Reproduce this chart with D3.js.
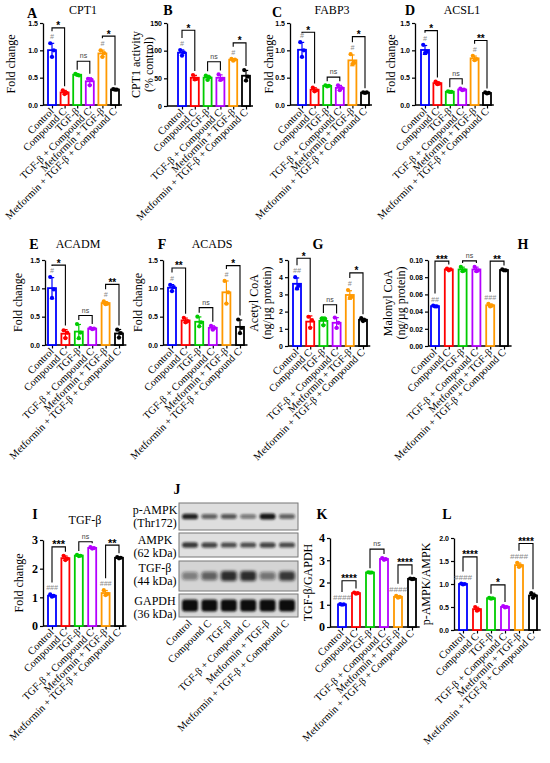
<!DOCTYPE html>
<html><head><meta charset="utf-8">
<script src="https://cdn.jsdelivr.net/npm/d3@7"></script>
<style>body{margin:0;background:#fff}svg{display:block}</style>
</head><body>
<svg id="c" width="550" height="763"></svg>
<script>
// ---------- data ----------
const groups = ["Control","Compound C","TGF-β","TGF-β + Compound C","Metformin + TGF-β","Metformin + TGF-β + Compound C"];
const groupColors = ["#0000ff","#ff0000","#00cc00","#b400ff","#ff9900","#000000"];

const cpt1      = [[1.13,1.0,0.88],[0.27,0.22,0.2],[0.57,0.54,0.55],[0.48,0.46,0.36],[1.0,0.95,0.88],[0.29,0.28,0.28]];
const cpt1Act   = [[101,97,91],[56,49,48],[55,52,47],[57,49,47],[85,84,82],[65,53,46]];
const fabp3     = [[1.15,1.0,0.88],[0.32,0.27,0.25],[0.36,0.35,0.34],[0.36,0.31,0.27],[0.93,0.77,0.75],[0.23,0.23,0.22]];
const acsl1     = [[1.1,0.97,0.95],[0.43,0.39,0.38],[0.25,0.24,0.24],[0.3,0.28,0.27],[0.9,0.84,0.82],[0.23,0.22,0.21]];
const acadm     = [[1.2,0.98,0.83],[0.26,0.22,0.12],[0.37,0.22,0.12],[0.3,0.29,0.28],[0.77,0.73,0.72],[0.27,0.21,0.13]];
const acads     = [[1.06,1.02,0.95],[0.48,0.42,0.4],[0.5,0.4,0.33],[0.34,0.3,0.27],[1.13,0.93,0.73],[0.45,0.3,0.21]];
const acetylCoA = [[4.0,3.5,3.35],[1.7,1.5,1.05],[1.6,1.58,1.2],[1.65,1.35,1.05],[3.25,2.85,2.8],[1.62,1.5,1.45]];
const malonylCoA= [[0.047,0.046,0.046],[0.09,0.089,0.088],[0.092,0.088,0.087],[0.092,0.088,0.087],[0.049,0.047,0.046],[0.089,0.088,0.088]];
const tgfbMRNA  = [[1.1,1.05,1.02],[2.45,2.35,2.3],[2.48,2.45,2.44],[2.75,2.72,2.7],[1.25,1.12,1.08],[2.4,2.38,2.36]];
const tgfbGapdh = [[1.03,1.02,1.0],[1.55,1.52,1.5],[2.46,2.45,2.44],[3.1,3.05,3.02],[1.4,1.35,1.32],[2.18,2.16,2.15]];
const pampkAmpk = [[1.01,1.0,0.99],[0.5,0.44,0.42],[0.7,0.69,0.68],[0.52,0.5,0.49],[1.46,1.4,1.37],[0.8,0.75,0.7]];

// significance: [groupA, groupB, bracket value, label]
const sigA = [[0,1,1.41,"*"],[2,3,0.80,"ns"],[4,5,1.26,"*"]];
const sigB = [[0,1,137,"*"],[2,3,80,"ns"],[4,5,114,"*"]];
const sigC = [[0,1,1.33,"*"],[2,3,0.51,"ns"],[4,5,1.25,"*"]];
const sigD = [[0,1,1.36,"*"],[2,3,0.48,"ns"],[4,5,1.18,"**"]];
const sigE = [[0,1,1.41,"*"],[2,3,0.52,"ns"],[4,5,1.07,"**"]];
const sigF = [[0,1,1.36,"**"],[2,3,0.66,"ns"],[4,5,1.40,"*"]];
const sigG = [[0,1,5.1,"*"],[2,3,2.4,"ns"],[4,5,4.25,"*"]];
const sigH = [[0,1,0.0987,"***"],[2,3,0.099,"ns"],[4,5,0.0987,"**"]];
const sigI = [[0,1,2.76,"***"],[2,3,2.94,"ns"],[4,5,2.82,"**"]];
const sigK = [[0,1,2.08,"****"],[2,3,3.5,"ns"],[4,5,2.79,"****"]];
const sigL = [[0,1,1.59,"****"],[2,3,0.98,"*"],[4,5,1.88,"****"]];

// hash marks: [group, label]
const hashA = [[0,"#"],[4,"#"]];
const hashG = [[0,"##"],[4,"#"]];
const hashH = [[0,"##"],[4,"###"]];
const hashI = [[0,"###"],[4,"###"]];
const hashKL = [[0,"####"],[4,"####"]];

// western blot band intensities (0-1) per lane
const bandPAMPK = [0.9,0.6,0.65,0.5,0.95,0.6];
const bandAMPK  = [0.8,0.75,0.7,0.7,0.75,0.72];
const bandTGFB  = [0.45,0.6,0.85,0.85,0.5,0.8];
const bandGAPDH = [1,1,1,1,1,1];

// ---------- drawing ----------
const svg = d3.select("#c");
const serif = "'Liberation Serif','Times New Roman',serif";
const sans = "'Liberation Sans',Arial,sans-serif";

function txt(x, y, s, o = {}) {
  return svg.append("text").attr("x", x).attr("y", y).text(s)
    .attr("font-family", o.f || serif).attr("font-size", o.s || 12)
    .attr("font-weight", o.w || "normal").attr("text-anchor", o.a || "middle")
    .attr("fill", o.c || "#000").attr("font-style", o.i || "normal");
}

function panel(p) {
  const g = svg.append("g");
  const x = d3.scalePoint().domain(d3.range(6)).range([p.x0, p.x0 + 5 * p.step]);
  const y = d3.scaleLinear().domain([0, p.max]).range([p.yBot, p.yTop]);
  const bw = 8;
  // y axis
  const ya = g.append("g").attr("transform", `translate(${p.ax},0)`)
    .call(d3.axisLeft(y).tickValues(p.ticks).tickFormat(p.fmt).tickSize(3).tickPadding(2).tickSizeOuter(0));
  ya.select(".domain").attr("stroke", "#000").attr("stroke-width", 1.3);
  ya.selectAll(".tick line").attr("stroke", "#000").attr("stroke-width", 1.2);
  ya.selectAll(".tick text").attr("font-family", p.tf || sans).attr("font-weight", "bold")
    .attr("font-size", p.ts || 7).attr("fill", "#000");
  // x axis
  g.append("line").attr("x1", p.ax).attr("x2", x(5) + p.step * 0.55)
    .attr("y1", p.yBot).attr("y2", p.yBot).attr("stroke", "#000").attr("stroke-width", 1.3);
  const xa = g.append("g").attr("transform", `translate(0,${p.yBot})`)
    .call(d3.axisBottom(x).tickSize(3.5).tickFormat(""));
  xa.select(".domain").remove();
  xa.selectAll(".tick line").attr("stroke", "#000").attr("stroke-width", 1.2);
  // bars
  const top = [];
  p.vals.forEach((pts, i) => {
    const m = d3.mean(pts), sd = d3.deviation(pts), c = groupColors[i];
    g.append("rect").attr("x", x(i) - bw / 2).attr("y", y(m)).attr("width", bw)
      .attr("height", p.yBot - y(m)).attr("fill", "#fff").attr("stroke", c).attr("stroke-width", 1.8);
    g.append("line").attr("x1", x(i)).attr("x2", x(i)).attr("y1", y(m - sd)).attr("y2", y(m + sd))
      .attr("stroke", c).attr("stroke-width", 1.2);
    [m - sd, m + sd].forEach(v => g.append("line").attr("x1", x(i) - 2.2).attr("x2", x(i) + 2.2)
      .attr("y1", y(v)).attr("y2", y(v)).attr("stroke", c).attr("stroke-width", 1.2));
    const dx = [-1.8, 1.8, 0];
    pts.forEach((v, k) => g.append("circle").attr("cx", x(i) + dx[k]).attr("cy", y(v)).attr("r", 2.1).attr("fill", c));
    top[i] = Math.min(y(d3.max(pts)), y(m + sd)) - 2;
  });
  // hashes
  (p.hash || []).forEach(([i, t]) => {
    g.append("text").attr("x", x(i)).attr("y", top[i] - 2).text(t).attr("text-anchor", "middle")
      .attr("font-family", sans).attr("font-style", "italic").attr("font-size", p.hs || 7).attr("fill", "#8a8a8a");
    top[i] = top[i] - 8;
  });
  // significance brackets
  (p.sig || []).forEach(([a, b, v, t]) => {
    const by = y(v);
    const la = Math.max(by + 1, top[a] - 2), lb = Math.max(by + 1, top[b] - 2);
    g.append("path").attr("d", `M${x(a)},${la}V${by}H${x(b)}V${lb}`).attr("fill", "none")
      .attr("stroke", "#000").attr("stroke-width", 1.1);
    const mx = (x(a) + x(b)) / 2;
    if (t === "ns") {
      g.append("text").attr("x", mx).attr("y", by - 3).text(t).attr("text-anchor", "middle")
        .attr("font-family", sans).attr("font-size", p.ns || 7).attr("fill", "#444");
    } else {
      g.append("text").attr("x", mx).attr("y", by + 1.5).text(t).attr("text-anchor", "middle")
        .attr("font-family", sans).attr("font-weight", "bold").attr("font-size", p.ss || 10).attr("fill", "#000");
    }
  });
  // y label
  const yc = (p.yTop + p.yBot) / 2;
  p.ylab.forEach((s, k) => {
    g.append("text").attr("transform", `translate(${p.ylx[k]},${yc}) rotate(-90)`).text(s)
      .attr("text-anchor", "middle").attr("font-family", serif).attr("font-size", 12);
  });
  // x labels
  groups.forEach((s, i) => {
    g.append("text").attr("transform", `translate(${x(i) + 2.5},${p.yBot + 7}) rotate(-45)`).text(s)
      .attr("text-anchor", "end").attr("font-family", serif).attr("font-size", 10.5);
  });
  if (p.letter) txt(p.letter[1], p.letter[2], p.letter[0], { w: "bold", s: 14 });
  if (p.title) txt(p.title[1], p.title[2], p.title[0], { s: 12 });
}

const f1 = d3.format(".1f"), f0 = d3.format("d"), f2 = d3.format(".2f");
const fc = ["Fold change"];

// Row 1
panel({vals: cpt1, ax: 43, x0: 52, step: 12.6, yTop: 23, yBot: 105, max: 1.5, ticks: [0,0.5,1,1.5], fmt: f1,
  ylab: fc, ylx: [15], sig: sigA, hash: hashA, letter: ["A",32,18], title: ["CPT1",83,14]});
panel({vals: cpt1Act, ax: 167, x0: 182, step: 12.8, yTop: 23, yBot: 106, max: 150, ticks: [0,50,100,150], fmt: f0,
  ylab: ["CPT1 activity","(% control)"], ylx: [140,153], sig: sigB, hash: hashA, letter: ["B",168,15]});
panel({vals: fabp3, ax: 290, x0: 302, step: 12.6, yTop: 23, yBot: 105, max: 1.5, ticks: [0,0.5,1,1.5], fmt: f1,
  ylab: fc, ylx: [273], sig: sigC, hash: hashA, letter: ["C",277,17], title: ["FABP3",332,14]});
panel({vals: acsl1, ax: 415, x0: 425, step: 12.4, yTop: 23, yBot: 105, max: 1.5, ticks: [0,0.5,1,1.5], fmt: f1,
  ylab: fc, ylx: [395], sig: sigD, hash: hashA, letter: ["D",410,15], title: ["ACSL1",462,14]});

// Row 2
panel({vals: acadm, ax: 45, x0: 52, step: 13.4, yTop: 260, yBot: 345, max: 1.5, ticks: [0,0.5,1,1.5], fmt: f1,
  ylab: fc, ylx: [22], sig: sigE, hash: hashA, letter: ["E",34,249], title: ["ACADM",78,248]});
panel({vals: acads, ax: 163, x0: 172, step: 13.6, yTop: 260, yBot: 345, max: 1.5, ticks: [0,0.5,1,1.5], fmt: f1,
  ylab: fc, ylx: [142], sig: sigF, hash: hashA, letter: ["F",162,249], title: ["ACADS",212,248]});
panel({vals: acetylCoA, ax: 288, x0: 297, step: 13.2, yTop: 260, yBot: 346, max: 5, ticks: [0,1,2,3,4,5], fmt: f0,
  ylab: ["Acetyl CoA","(ng/µg protein)"], ylx: [258,271], sig: sigG, hash: hashG, letter: ["G",318,249]});
panel({vals: malonylCoA, ax: 428, x0: 435, step: 13.8, yTop: 260, yBot: 346, max: 0.1, ticks: [0,0.02,0.04,0.06,0.08,0.1], fmt: f2,
  ylab: ["Malonyl CoA","(ng/µg protein)"], ylx: [392,405], sig: sigH, hash: hashH, letter: ["H",523,249]});

// Row 3
panel({vals: tgfbMRNA, ax: 43, x0: 52, step: 13.4, yTop: 540, yBot: 626, max: 3, ticks: [0,1,2,3], fmt: f0,
  tf: serif, ts: 12, ylab: fc, ylx: [23], sig: sigI, hash: hashI, ss: 11, letter: ["I",35,519], title: ["TGF-β",85,524]});
panel({vals: tgfbGapdh, ax: 330, x0: 342, step: 14, yTop: 538, yBot: 627, max: 4, ticks: [0,1,2,3,4], fmt: f0,
  tf: serif, ts: 12, ylab: ["TGF-β/GAPDH"], ylx: [312], sig: sigK, hash: hashKL, hs: 8, ss: 10, letter: ["K",322,519]});
panel({vals: pampkAmpk, ax: 454, x0: 463, step: 14, yTop: 538, yBot: 630, max: 2, ticks: [0,0.5,1,1.5,2], fmt: f1,
  ylab: ["p-AMPK/AMPK"], ylx: [430], sig: sigL, hash: hashKL, hs: 8, ss: 10, letter: ["L",447,519]});

// ---------- Western blot (J) ----------
const defs = svg.append("defs");
defs.append("filter").attr("id", "blur").attr("x", "-50%").attr("y", "-100%").attr("width", "200%").attr("height", "300%")
  .append("feGaussianBlur").attr("stdDeviation", 1.1);
defs.append("filter").attr("id", "blur2").attr("x", "-50%").attr("y", "-100%").attr("width", "200%").attr("height", "300%")
  .append("feGaussianBlur").attr("stdDeviation", 1.8);

txt(177, 494, "J", { w: "bold", s: 14 });
const lane = d3.scalePoint().domain(groups).range([190, 287]);
const blotRows = [
  { lab: ["p-AMPK","(Thr172)"], y0: 503, y1: 530, bands: bandPAMPK, h: 5, bg: "#dedede", f: "blur" },
  { lab: ["AMPK","(62 kDa)"], y0: 533, y1: 557, bands: bandAMPK, h: 5, bg: "#e0e0e0", f: "blur" },
  { lab: ["TGF-β","(44 kDa)"], y0: 561, y1: 591, bands: bandTGFB, h: 9, bg: "#d4d4d4", f: "blur2" },
  { lab: ["GAPDH","(36 kDa)"], y0: 594, y1: 617, bands: bandGAPDH, h: 10, bg: "#d8d8d8", f: "blur" }
];
blotRows.forEach(r => {
  svg.append("rect").attr("x", 179).attr("y", r.y0).attr("width", 119).attr("height", r.y1 - r.y0)
    .attr("fill", r.bg).attr("stroke", "#777").attr("stroke-width", 1);
  const cy = (r.y0 + r.y1) / 2;
  r.bands.forEach((v, i) => {
    const h = r.h * (0.6 + 0.6 * v);
    svg.append("rect").attr("x", lane(groups[i]) - 8).attr("y", cy - h / 2).attr("width", 16).attr("height", h)
      .attr("rx", 3).attr("fill", "#111").attr("fill-opacity", v).attr("filter", `url(#${r.f})`);
  });
  txt(155, r.y0 + 11, r.lab[0], { s: 12 });
  txt(155, r.y0 + 24, r.lab[1], { s: 12 });
});
groups.forEach(s => {
  svg.append("text").attr("transform", `translate(${lane(s) + 2.5},${624}) rotate(-45)`).text(s)
    .attr("text-anchor", "end").attr("font-family", serif).attr("font-size", 10.5);
});
</script>
</body></html>
